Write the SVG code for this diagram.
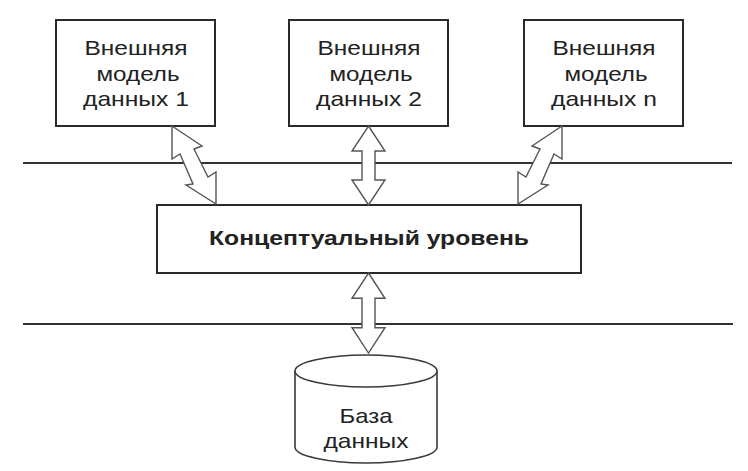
<svg xmlns="http://www.w3.org/2000/svg" width="748" height="471" viewBox="0 0 748 471">
<style>
.bg{fill:#ffffff}
.sep{stroke:#333333;stroke-width:2;fill:none}
.box{fill:#ffffff;stroke:#2a2a2a;stroke-width:2}
.cyl{fill:#ffffff;stroke:#3a3a3a;stroke-width:1.6}
.arr{fill:#ffffff;stroke:#555555;stroke-width:1.4;stroke-linejoin:miter}
.t{font-family:"Liberation Sans",Arial,sans-serif;font-size:21px;fill:#222222;text-anchor:middle}
.b{font-weight:bold}
</style>
<defs>
<polygon id="zz" points="172,126 202,146 194,149 208,177 216,172 216,204 186,185 193,184 180,154 172,159"/>
<polygon id="va" points="0,0 16.5,25 6.5,25 6.5,54 16.5,54 0,79 -16.5,54 -6.5,54 -6.5,25 -16.5,25"/>
</defs>
<rect class="bg" x="0" y="0" width="748" height="471"/>
<g id="levels">
<line class="sep" x1="23" y1="163" x2="732" y2="163"/>
<line class="sep" x1="23" y1="324" x2="733" y2="324"/>
</g>
<g id="ext1">
<rect class="box" x="56" y="20" width="159" height="106"/>
<text class="t" x="136" y="55" textLength="103" lengthAdjust="spacingAndGlyphs">Внешняя</text>
<text class="t" x="138" y="81" textLength="83" lengthAdjust="spacingAndGlyphs">модель</text>
<text class="t" x="136" y="106" textLength="106" lengthAdjust="spacingAndGlyphs">данных 1</text>
</g>
<g id="ext2">
<rect class="box" x="289" y="20" width="159" height="106"/>
<text class="t" x="369" y="55" textLength="103" lengthAdjust="spacingAndGlyphs">Внешняя</text>
<text class="t" x="371" y="81" textLength="83" lengthAdjust="spacingAndGlyphs">модель</text>
<text class="t" x="369" y="106" textLength="106" lengthAdjust="spacingAndGlyphs">данных 2</text>
</g>
<g id="extn">
<rect class="box" x="524" y="20" width="159" height="106"/>
<text class="t" x="604" y="55" textLength="103" lengthAdjust="spacingAndGlyphs">Внешняя</text>
<text class="t" x="606" y="81" textLength="83" lengthAdjust="spacingAndGlyphs">модель</text>
<text class="t" x="604" y="106" textLength="106" lengthAdjust="spacingAndGlyphs">данных n</text>
</g>
<g id="conceptual">
<rect class="box" x="157" y="205" width="424" height="68"/>
<text class="t b" x="369" y="245" textLength="320" lengthAdjust="spacingAndGlyphs">Концептуальный уровень</text>
</g>
<g id="database">
<path class="cyl" d="M295,371 L295,447 A71,16 0 0 0 437,447 L437,371"/>
<ellipse class="cyl" cx="366" cy="371" rx="71" ry="16"/>
<text class="t" x="366" y="423" textLength="53" lengthAdjust="spacingAndGlyphs">База</text>
<text class="t" x="366" y="448" textLength="85" lengthAdjust="spacingAndGlyphs">данных</text>
</g>
<g id="connectors">
<use href="#zz" class="arr"/>
<use href="#zz" class="arr" transform="matrix(-1 0 0 1 734 0)"/>
<use href="#va" class="arr" transform="translate(368.5 126)"/>
<use href="#va" class="arr" transform="translate(368.5 273) scale(1 1.013)"/>
</g>
</svg>
